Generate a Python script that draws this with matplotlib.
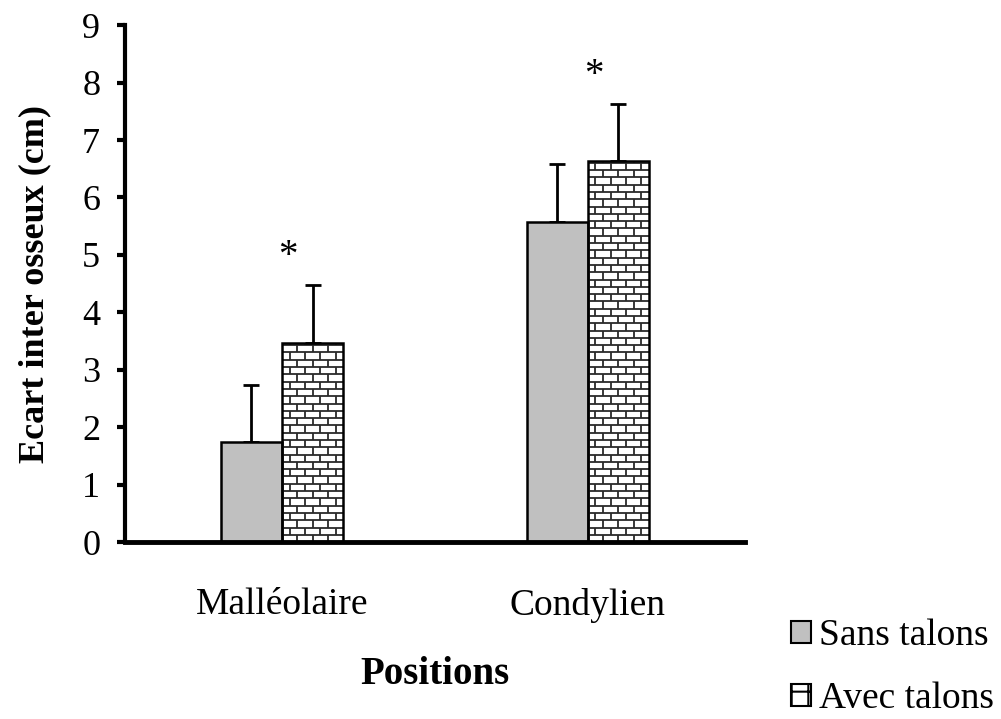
import numpy as np
import matplotlib
matplotlib.use('Agg')
import matplotlib.pyplot as plt
from matplotlib.collections import LineCollection
from matplotlib.patches import Patch

plt.rcParams['font.family'] = ['Liberation Serif', 'DejaVu Serif']
plt.rcParams['hatch.linewidth'] = 1.5

positions = ['Malléolaire', 'Condylien']
series = ['Sans talons', 'Avec talons']
sans_talons = [1.75, 5.58]
avec_talons = [3.47, 6.64]
sans_err = [0.98, 1.0]
avec_err = [1.0, 0.99]
star_y = [4.97, 8.13]


def brick_fill(ax, bar, brick_h=0.127, brick_w=0.05, color='#2a2a2a'):
    # brick pattern kept inside the bar
    x0, w, h = bar.get_x(), bar.get_width(), bar.get_height()
    x1 = x0 + w
    segs = []
    rows = int(np.ceil(h / brick_h))
    for r in range(rows):
        y = r * brick_h
        ytop = min(y + brick_h, h)
        if r > 0:
            segs.append([(x0, y), (x1, y)])
        off = 0 if r % 2 == 0 else brick_w / 2
        for xv in np.arange(x0 + off, x1, brick_w):
            if x0 + 0.004 < xv < x1 - 0.004:
                segs.append([(xv, y), (xv, ytop)])
    lc = LineCollection(segs, colors=color, linewidths=1.3, zorder=2.5)
    ax.add_collection(lc)


fig = plt.figure(figsize=(10.01, 7.19), dpi=100)
ax = fig.add_axes([0.125, 0.246, 0.619, 0.719])

x = np.arange(len(positions))
w = 0.2
b1 = ax.bar(x - w / 2, sans_talons, w, color='#c0c0c0', edgecolor='black',
            linewidth=1.8, zorder=2, label=series[0])
b2 = ax.bar(x + w / 2, avec_talons, w, color='white', edgecolor='black',
            linewidth=1.8, zorder=2, label=series[1])
ax.errorbar(x - w / 2, sans_talons, yerr=[np.zeros(2), sans_err], fmt='none',
            ecolor='black', elinewidth=2, capsize=6, capthick=2, zorder=1)
ax.errorbar(x + w / 2, avec_talons, yerr=[np.zeros(2), avec_err], fmt='none',
            ecolor='black', elinewidth=2, capsize=6, capthick=2, zorder=1)

ax.set_xlim(-0.513, 1.513)
ax.set_ylim(0, 9)

for bar in b2:
    brick_fill(ax, bar)
    bar.set_zorder(3)
    bar.set_facecolor('none')

for xi, yi in zip(x, star_y):
    ax.text(xi + 0.02, yi, '*', ha='center', va='center', fontsize=28)

ax.spines['top'].set_visible(False)
ax.spines['right'].set_visible(False)
ax.spines['left'].set_linewidth(3)
ax.spines['bottom'].set_linewidth(3.5)
ax.set_yticks(range(10))
ax.set_xticks(x)
ax.set_xticklabels(positions)
ax.tick_params(axis='y', length=6, width=3, pad=12, labelsize=26)
ax.tick_params(axis='x', length=0, pad=33, labelsize=27)

ax.set_ylabel('Ecart inter osseux (cm)', fontsize=26, fontweight='bold', labelpad=22)
ax.set_xlabel('Positions', fontsize=28, fontweight='bold', labelpad=24)

handles = [Patch(facecolor='#c0c0c0', edgecolor='black', linewidth=1.5),
           Patch(facecolor='white', edgecolor='black', linewidth=1.5, hatch='+')]
fig.legend(handles, series, loc='upper left', bbox_to_anchor=(0.775, 0.16),
           frameon=False, fontsize=27, handlelength=0.55, handleheight=0.55,
           handletextpad=0.2, labelspacing=0.75, borderaxespad=0)

fig.savefig('out.png', dpi=100)
